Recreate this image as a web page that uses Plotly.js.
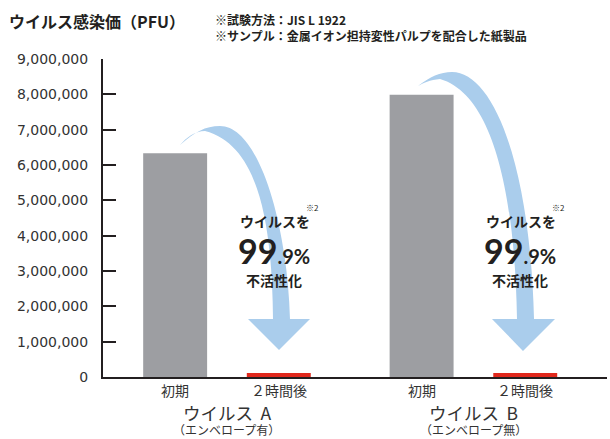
<!DOCTYPE html>
<html>
<head>
<meta charset="utf-8">
<script src="https://cdn.plot.ly/plotly-3.0.1.min.js"></script>
<style>html,body{margin:0;padding:0;background:#fff;}#chart{width:610px;height:439px;}</style>
</head>
<body>
<div id="chart"></div>
<script>
// ---- data ----
const groups = ['ウイルス A', 'ウイルス B'];
const groupSubtitles = ['（エンベロープ有）', '（エンベロープ無）'];
const seriesNames = ['初期', '２時間後'];
const initialValues = [6330000, 7990000];
const after2hValues = [110000, 110000];
const yTickStep = 1000000;
const yMax = 9000000;
const titleText = 'ウイルス感染価（PFU）';
const noteLines = ['※試験方法：JIS L 1922', '※サンプル：金属イオン担持変性パルプを配合した紙製品'];
const calloutTop = 'ウイルスを';
const calloutNote = '※2';
const calloutBig = '99';
const calloutSmall = '.9%';
const calloutBottom = '不活性化';

// ---- layout geometry ----
const W = 610, H = 439, ML = 103, MR = 3, MT = 59, MB = 62;
const PW = W - ML - MR, PH = H - MT - MB;
const px = x => (x - ML) / PW;
const py = y => (H - MB - y) / PH;
const JP = '"Noto Sans CJK JP", "Noto Sans", sans-serif';
const DARK = '#231f20';
const ARROW = '#AACDEC';

function pathFrom(cmds) {
  // cmds: array of [letter, [x,y,...]] in pixel space -> paper space path
  return cmds.map(([c, pts]) => {
    const n = (c === 'C') ? 6 : 2;
    const parts = [];
    for (let i = 0; i < pts.length; i += n) {
      const seg = [];
      for (let j = i; j < i + n; j += 2) seg.push(px(pts[j]).toFixed(4) + ',' + py(pts[j + 1]).toFixed(4));
      parts.push(c + ' ' + seg.join(' '));
    }
    return parts.join(' ');
  }).join(' ') + ' Z';
}

const arrowA = pathFrom([
  ['M', [180, 145]],
  ['C', [195, 132, 205, 126, 220, 126]],
  ['C', [258, 126, 287, 220, 290, 319]],
  ['L', [273, 319]],
  ['C', [272, 220, 258, 145, 205, 131]],
  ['C', [195, 131, 186, 138, 180, 145]]
]);
const headA = pathFrom([['M', [248, 319]], ['L', [310, 319, 279, 350]]]);
const arrowB = pathFrom([
  ['M', [418, 86]],
  ['C', [430, 77, 440, 72, 452, 72]],
  ['C', [492, 72, 530, 160, 534, 319]],
  ['L', [517, 319]],
  ['C', [515, 200, 495, 95, 440, 79]],
  ['C', [430, 80, 423, 83, 418, 86]]
]);
const headB = pathFrom([['M', [492, 319]], ['L', [555, 319, 523, 351]]]);

const shapes = [arrowA, headA, arrowB, headB].map(p => ({
  type: 'path', xref: 'paper', yref: 'paper', path: p,
  fillcolor: ARROW, line: {width: 0}, layer: 'above'
}));

const traces = [
  {type: 'bar', name: seriesNames[0], x: groups, y: initialValues, marker: {color: '#9D9EA2'}, hoverinfo: 'none'},
  {type: 'bar', name: seriesNames[1], x: groups, y: after2hValues, marker: {color: '#E0281C'}, hoverinfo: 'none'}
];

const annotations = [];
// header
annotations.push({xref: 'paper', yref: 'paper', x: px(7), y: py(21.5), xanchor: 'left', yanchor: 'middle', showarrow: false,
  text: '<b>' + titleText + '</b>', font: {family: JP, size: 16, color: DARK}});
annotations.push({xref: 'paper', yref: 'paper', x: px(213), y: py(27), xanchor: 'left', yanchor: 'middle', align: 'left', showarrow: false,
  text: noteLines.map(t => '<b>' + t + '</b>').join('<br>'), font: {family: JP, size: 12, color: DARK}});
// sub-category labels under each bar and group labels
groups.forEach((g, gi) => {
  seriesNames.forEach((s, si) => annotations.push({xref: 'x', yref: 'paper', x: g, xshift: (si === 0 ? -51.8 : 51.8), y: py(390), xanchor: 'center', yanchor: 'middle', showarrow: false,
    text: s, font: {family: JP, size: 14, color: '#333'}}));
  annotations.push({xref: 'x', yref: 'paper', x: g, y: py(412.5), xanchor: 'center', yanchor: 'middle', showarrow: false, borderpad: 0,
    text: g.replace(' ', '\u2009 '), font: {family: JP, size: 17.5, color: '#333'}});
  annotations.push({xref: 'x', yref: 'paper', x: g, y: py(439), xanchor: 'center', yanchor: 'bottom', showarrow: false, borderpad: 0,
    text: groupSubtitles[gi], font: {family: JP, size: 12, color: '#333'}});
});
// callouts
[275, 521].forEach(cx => {
  annotations.push({xref: 'paper', yref: 'paper', x: px(cx), y: py(221), xanchor: 'center', yanchor: 'middle', showarrow: false,
    text: '<b>' + calloutTop + '</b>', font: {family: JP, size: 14, color: DARK}});
  annotations.push({xref: 'paper', yref: 'paper', x: px(cx + 37), y: py(207), xanchor: 'center', yanchor: 'middle', showarrow: false,
    text: calloutNote, font: {family: JP, size: 8, color: DARK}});
  annotations.push({xref: 'paper', yref: 'paper', x: px(cx - 1), y: py(250), xanchor: 'center', yanchor: 'middle', showarrow: false,
    text: '<b><span style="font-size:34px">' + calloutBig + '</span><span style="font-size:20px">' + calloutSmall + '</span></b>',
    font: {family: 'Lato, "DejaVu Sans", sans-serif', size: 20, color: DARK}});
  annotations.push({xref: 'paper', yref: 'paper', x: px(cx - 1), y: py(280), xanchor: 'center', yanchor: 'middle', showarrow: false,
    text: '<b>' + calloutBottom + '</b>', font: {family: JP, size: 14, color: DARK}});
});

const layout = {
  width: W, height: H,
  margin: {l: ML, r: MR, t: MT, b: MB, pad: 0},
  paper_bgcolor: '#fff', plot_bgcolor: '#fff',
  showlegend: false,
  barmode: 'group', bargap: 0.159, bargroupgap: 0.383,
  xaxis: {type: 'category', range: [-0.503, 1.542], showticklabels: false, ticks: '',
    showline: true, linecolor: DARK, linewidth: 2, showgrid: false, zeroline: false, fixedrange: true},
  yaxis: {range: [0, yMax], tick0: 0, dtick: yTickStep, tickformat: ',', ticks: 'inside', ticklen: 13, tickwidth: 2, tickcolor: DARK,
    showline: true, linecolor: DARK, linewidth: 2, showgrid: false, zeroline: false,
    ticklabelstandoff: 10,
    tickfont: {family: '"DejaVu Sans", sans-serif', size: 14, color: '#333'}, fixedrange: true},
  shapes: shapes,
  annotations: annotations
};

Plotly.newPlot('chart', traces, layout, {displayModeBar: false, staticPlot: true});
</script>
</body>
</html>
